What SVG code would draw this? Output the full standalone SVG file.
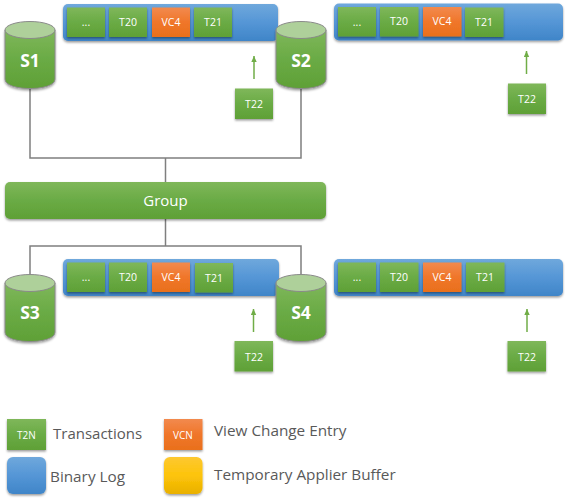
<svg xmlns="http://www.w3.org/2000/svg" width="568" height="500" viewBox="0 0 568 500">
<defs>
<linearGradient id="gG" x1="0" y1="0" x2="0" y2="1"><stop offset="0" stop-color="#7fb75a"/><stop offset="0.5" stop-color="#6aab45"/><stop offset="1" stop-color="#5fa036"/></linearGradient>
<linearGradient id="gO" x1="0" y1="0" x2="0" y2="1"><stop offset="0" stop-color="#f28a4e"/><stop offset="0.5" stop-color="#f0762a"/><stop offset="1" stop-color="#e9701c"/></linearGradient>
<linearGradient id="gB" x1="0" y1="0" x2="0" y2="1"><stop offset="0" stop-color="#6fa8dc"/><stop offset="0.5" stop-color="#5596d6"/><stop offset="1" stop-color="#3f85c8"/></linearGradient>
<linearGradient id="gY" x1="0" y1="0" x2="0" y2="1"><stop offset="0" stop-color="#fdc830"/><stop offset="0.5" stop-color="#fdc40a"/><stop offset="1" stop-color="#e9b000"/></linearGradient>
<filter id="sh" x="-15%" y="-15%" width="130%" height="135%"><feDropShadow dx="0" dy="1.5" stdDeviation="1.2" flood-color="#000" flood-opacity="0.4"/></filter>
<marker id="ah" markerWidth="7" markerHeight="6" refX="6" refY="3" orient="auto" markerUnits="userSpaceOnUse"><path d="M0 0.300L6 3L0 5.700Z" fill="#70ad47"/></marker>
</defs>
<style>
text{font-family:"Open Sans","Noto Sans","Liberation Sans",sans-serif;text-anchor:middle}
.g{fill:url(#gG);filter:url(#sh)}
.o{fill:url(#gO);filter:url(#sh)}
.b{fill:url(#gB);filter:url(#sh)}
.y{fill:url(#gY);filter:url(#sh)}
.t{fill:#fff;font-size:10.5px}
.s{fill:#fff;font-size:17.5px;font-weight:700}
.l{fill:#595959;font-size:15.3px;text-anchor:start}
.cy{fill:url(#gG);stroke:#8a8a8a;stroke-width:1;filter:url(#sh)}
.ct{fill:#aed09a;stroke:#8a8a8a;stroke-width:1}
.c{fill:none;stroke:#7f7f7f;stroke-width:1.5}
.a{fill:none;stroke:#70ad47;stroke-width:1.5;marker-end:url(#ah)}
</style>
<g id="connectors">
<path class="c" d="M30 88V158H301V88M165.500 158V182"/>
<path class="c" d="M165.500 219V246M30 275V246H301V275"/>
<path class="a" d="M254 79V56"/>
<path class="a" d="M526.500 74V51"/>
<path class="a" d="M253.500 332V309"/>
<path class="a" d="M527 332V309"/>
</g>
<g id="log-s1">
<rect class="b" x="63" y="4" width="215" height="37" rx="5"/>
<rect class="g" x="67" y="7.500" width="38" height="29.500"/><text class="t" x="86" y="26">...</text>
<rect class="g" x="109" y="7.500" width="38" height="29.500"/><text class="t" x="128" y="26">T20</text>
<rect class="o" x="152" y="7.500" width="38" height="29.500"/><text class="t" x="171" y="26">VC4</text>
<rect class="g" x="194" y="7.500" width="38" height="29.500"/><text class="t" x="213" y="26">T21</text>
</g>
<g id="t22-s1"><rect class="g" x="235" y="88.500" width="38" height="30.500"/><text class="t" x="254" y="108">T22</text></g>
<g id="s1">
<path class="cy" d="M5 30V79C5 85 16 88.500 30 88.500S55 85 55 79V30Z"/>
<ellipse class="ct" cx="30" cy="30" rx="25" ry="8.500"/>
<text class="s" x="30" y="67">S1</text>
</g>
<g id="s2">
<path class="cy" d="M276 30V79C276 85 287 88.500 301 88.500S326 85 326 79V30Z"/>
<ellipse class="ct" cx="301" cy="30" rx="25" ry="8.500"/>
<text class="s" x="301" y="67">S2</text>
</g>
<g id="log-s2">
<rect class="b" x="334" y="3.500" width="229" height="37" rx="5"/>
<rect class="g" x="338" y="7" width="38" height="29.500"/><text class="t" x="357" y="25.500">...</text>
<rect class="g" x="380" y="7" width="38.500" height="29.500"/><text class="t" x="399" y="25">T20</text>
<rect class="o" x="423" y="7" width="38.500" height="29.500"/><text class="t" x="442" y="25">VC4</text>
<rect class="g" x="465" y="7.500" width="38.500" height="29.500"/><text class="t" x="484" y="26">T21</text>
</g>
<g id="t22-s2"><rect class="g" x="508" y="83.500" width="38" height="30.500"/><text class="t" x="527" y="103">T22</text></g>
<g id="group">
<rect class="g" x="5" y="182" width="321" height="37" rx="5"/>
<text x="165.500" y="206" fill="#fff" font-size="15">Group</text>
</g>
<g id="log-s3">
<rect class="b" x="63" y="259" width="216" height="37" rx="5"/>
<rect class="g" x="67" y="262.500" width="38" height="29.500"/><text class="t" x="86" y="281">...</text>
<rect class="g" x="109" y="262.500" width="38" height="29.500"/><text class="t" x="128" y="281">T20</text>
<rect class="o" x="152" y="262.500" width="38" height="29.500"/><text class="t" x="171" y="281">VC4</text>
<rect class="g" x="195" y="263" width="38" height="29.500"/><text class="t" x="214" y="282">T21</text>
</g>
<g id="t22-s3"><rect class="g" x="234.500" y="341" width="38.500" height="30.500"/><text class="t" x="254" y="360.500">T22</text></g>
<g id="s3">
<path class="cy" d="M5 283V332C5 338 16 341.500 30 341.500S55 338 55 332V283Z"/>
<ellipse class="ct" cx="30" cy="283" rx="25" ry="8.500"/>
<text class="s" x="30" y="319">S3</text>
</g>
<g id="s4">
<path class="cy" d="M276 283V332C276 338 287 341.500 301 341.500S326 338 326 332V283Z"/>
<ellipse class="ct" cx="301" cy="283" rx="25" ry="8.500"/>
<text class="s" x="301" y="319">S4</text>
</g>
<g id="log-s4">
<rect class="b" x="334" y="259" width="229" height="37" rx="5"/>
<rect class="g" x="338" y="262.500" width="38" height="29.500"/><text class="t" x="357" y="281">...</text>
<rect class="g" x="380" y="262.500" width="38.500" height="29.500"/><text class="t" x="399" y="281">T20</text>
<rect class="o" x="423" y="262.500" width="38.500" height="29.500"/><text class="t" x="442" y="281">VC4</text>
<rect class="g" x="466" y="262.500" width="38.500" height="29.500"/><text class="t" x="485" y="281">T21</text>
</g>
<g id="t22-s4"><rect class="g" x="507.500" y="341" width="38.500" height="30.500"/><text class="t" x="527" y="360.500">T22</text></g>
<g id="legend-transactions">
<rect class="g" x="7" y="419" width="39" height="31"/><text class="t" x="26.500" y="439" style="font-size:10px">T2N</text>
<text class="l" x="53" y="439" style="font-size:15px">Transactions</text>
</g>
<g id="legend-view-change">
<rect class="o" x="164" y="419" width="38.500" height="31"/><text class="t" x="183" y="439" style="font-size:10px">VCN</text>
<text class="l" x="214" y="436">View Change Entry</text>
</g>
<g id="legend-binary-log">
<rect class="b" x="7" y="457" width="39" height="37" rx="6"/>
<text class="l" x="50" y="482">Binary Log</text>
</g>
<g id="legend-buffer">
<rect class="y" x="164" y="457" width="38.500" height="37" rx="6"/>
<text class="l" x="214" y="480">Temporary Applier Buffer</text>
</g>
</svg>
